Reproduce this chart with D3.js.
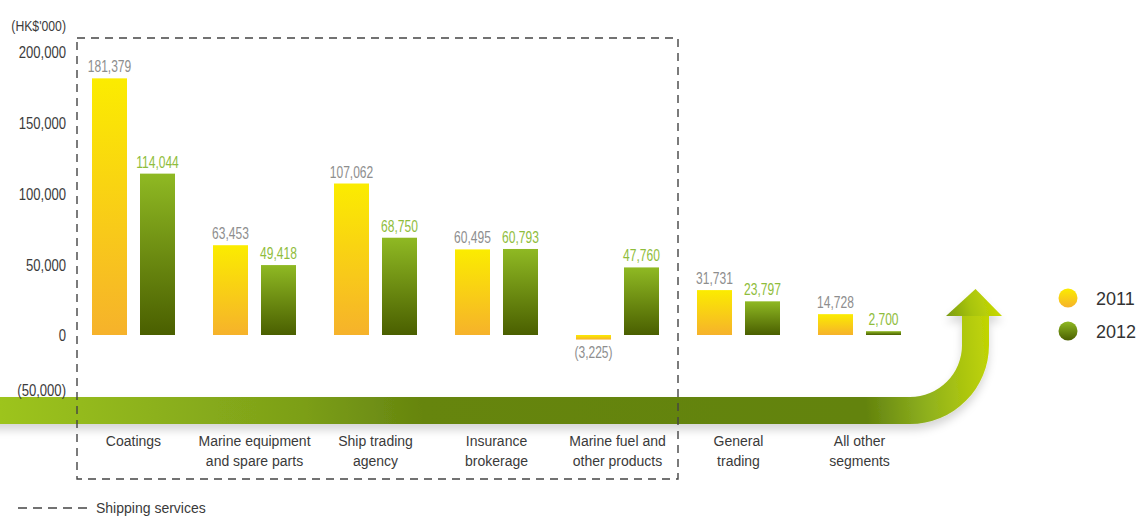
<!DOCTYPE html>
<html>
<head>
<meta charset="utf-8">
<script src="https://cdn.jsdelivr.net/npm/d3@7"></script>
<style>
  html, body { margin: 0; padding: 0; background: #ffffff; }
  svg { display: block; }
  .num { font-family: "Liberation Sans", Arial, sans-serif; }
  .txt { font-family: "Liberation Sans", Arial, sans-serif; }
</style>
</head>
<body>
<svg id="chart" width="1138" height="517"></svg>
<script>
// Segment results, HK$'000
const categories = [
  "Coatings",
  "Marine equipment\nand spare parts",
  "Ship trading\nagency",
  "Insurance\nbrokerage",
  "Marine fuel and\nother products",
  "General\ntrading",
  "All other\nsegments"
];
const years = ["2011", "2012"];
const values2011 = [181379, 63453, 107062, 60495, -3225, 31731, 14728];
const values2012 = [114044, 49418, 68750, 60793, 47760, 23797, 2700];
const yTickValues = [200000, 150000, 100000, 50000, 0, -50000];
const unitLabel = "(HK$'000)";
const groupLabel = "Shipping services";
// categories enclosed by the dashed "Shipping services" box
const shippingCategories = categories.slice(0, 5);

// numbers are set in a narrow face: squeeze the regular sans horizontally
const NARROW_AXIS = 0.77;
const NARROW_VAL = 0.73;
const NARROW_UNIT = 0.79;

const svg = d3.select("#chart");
const defs = svg.append("defs");

function vGrad(id, top, bottom) {
  const g = defs.append("linearGradient").attr("id", id)
    .attr("x1", 0).attr("y1", 0).attr("x2", 0).attr("y2", 1);
  g.append("stop").attr("offset", "0%").attr("stop-color", top);
  g.append("stop").attr("offset", "100%").attr("stop-color", bottom);
}
vGrad("g2011", "#fbec00", "#f6b22b");
vGrad("g2012", "#8fb923", "#4a5f00");

const seriesFill = { "2011": "url(#g2011)", "2012": "url(#g2012)" };
const labelColor = { "2011": "#8e8e8e", "2012": "#8fbd3c" };

// scales
const x = d3.scaleBand()
  .domain(categories)
  .range([73, 920])
  .paddingInner(38 / 121)
  .paddingOuter(19 / 121);
const xInner = d3.scaleBand()
  .domain(years)
  .range([0, x.bandwidth()])
  .paddingInner(2 - x.bandwidth() / 48);
const y = d3.scaleLinear().domain([0, 200000]).range([335, 52]);

const fmt = d3.format(",");
const fmtVal = v => v < 0 ? `(${fmt(-v)})` : fmt(v);

const rows = categories.map((c, i) => ({
  cat: c,
  vals: [{ year: "2011", v: values2011[i] }, { year: "2012", v: values2012[i] }]
}));

// growth arrow running under the bars
const ag = defs.append("linearGradient").attr("id", "arrowGrad")
  .attr("gradientUnits", "userSpaceOnUse")
  .attr("x1", 0).attr("y1", 415).attr("x2", 1000).attr("y2", 330);
[[0, "#9dc41f"], [0.3, "#7c9f18"], [0.42, "#66850f"], [0.86, "#63830e"],
 [0.92, "#8eb01e"], [1, "#cadb00"]].forEach(([o, c]) =>
  ag.append("stop").attr("offset", o).attr("stop-color", c));

const hg = defs.append("linearGradient").attr("id", "headGrad")
  .attr("gradientUnits", "userSpaceOnUse")
  .attr("x1", 946).attr("y1", 316).attr("x2", 1002).attr("y2", 300);
[[0, "#7a9b14"], [0.45, "#a8c40c"], [1, "#cddc00"]].forEach(([o, c]) =>
  hg.append("stop").attr("offset", o).attr("stop-color", c));

const shadow = defs.append("filter").attr("id", "arrowShadow")
  .attr("x", "-5%").attr("y", "-20%").attr("width", "110%").attr("height", "160%");
shadow.append("feDropShadow").attr("dx", 0).attr("dy", 6)
  .attr("stdDeviation", 4).attr("flood-color", "#000").attr("flood-opacity", 0.16);

const cx = 910, cy = 345, rIn = 52, rOut = 79, headBase = 316;
const bodyPath = d3.path();
bodyPath.moveTo(-10, cy + rIn);
bodyPath.lineTo(cx, cy + rIn);
bodyPath.arc(cx, cy, rIn, Math.PI / 2, 0, true);
bodyPath.lineTo(cx + rIn, headBase);
bodyPath.lineTo(cx + rOut, headBase);
bodyPath.lineTo(cx + rOut, cy);
bodyPath.arc(cx, cy, rOut, 0, Math.PI / 2, false);
bodyPath.lineTo(-10, cy + rOut);
bodyPath.closePath();

const headPath = d3.path();
headPath.moveTo(946, headBase);
headPath.lineTo((cx + rIn + cx + rOut) / 2, 289);
headPath.lineTo(1002, headBase);
headPath.closePath();

const arrowG = svg.append("g").attr("filter", "url(#arrowShadow)");
arrowG.append("path").attr("d", bodyPath.toString()).attr("fill", "url(#arrowGrad)");
arrowG.append("path").attr("d", headPath.toString()).attr("fill", "url(#headGrad)");

// y axis labels
const yAxis = d3.axisLeft(y).tickValues(yTickValues).tickFormat(fmtVal).tickSize(0).tickPadding(0);
const yg = svg.append("g").attr("transform", "translate(66,0)").call(yAxis);
yg.select(".domain").remove();
yg.selectAll("text")
  .attr("class", "num")
  .attr("font-size", 17)
  .attr("fill", "#3c3c3c")
  .attr("transform", `scale(${NARROW_AXIS},1)`)
  .attr("dy", d => d < 0 ? "-0.6em" : "0.34em");

svg.append("text").attr("class", "num")
  .attr("transform", `translate(66,31) scale(${NARROW_UNIT},1)`)
  .attr("text-anchor", "end")
  .attr("font-size", 15.5)
  .attr("fill", "#3c3c3c")
  .text(unitLabel);

// bars
const groups = svg.append("g").selectAll("g")
  .data(rows).join("g")
  .attr("transform", d => `translate(${x(d.cat)},0)`);

groups.selectAll("rect")
  .data(d => d.vals).join("rect")
  .attr("x", d => xInner(d.year))
  .attr("width", xInner.bandwidth())
  .attr("y", d => y(Math.max(0, d.v)))
  .attr("height", d => Math.abs(y(d.v) - y(0)))
  .attr("fill", d => seriesFill[d.year]);

groups.selectAll("text.val")
  .data(d => d.vals).join("text")
  .attr("class", "val num")
  .attr("transform", d => {
    const tx = xInner(d.year) + xInner.bandwidth() / 2;
    const ty = d.v >= 0 ? y(d.v) - 6 : y(d.v) + 18;
    return `translate(${tx},${ty}) scale(${NARROW_VAL},1)`;
  })
  .attr("text-anchor", "middle")
  .attr("font-size", 16.5)
  .attr("fill", d => labelColor[d.year])
  .text(d => fmtVal(d.v));

// category labels
const catG = svg.append("g").selectAll("text")
  .data(categories).join("text")
  .attr("class", "txt")
  .attr("text-anchor", "middle")
  .attr("font-size", 14)
  .attr("fill", "#3a3a3a")
  .attr("x", d => x(d) + x.bandwidth() / 2)
  .attr("y", 446);
catG.selectAll("tspan")
  .data(d => d.split("\n")).join("tspan")
  .attr("x", function () { return d3.select(this.parentNode).attr("x"); })
  .attr("dy", (d, i) => i === 0 ? 0 : 20)
  .text(d => d);

// dashed box around the shipping segments
const first = shippingCategories[0], last = shippingCategories[shippingCategories.length - 1];
const boxX0 = x(first) - 15, boxX1 = x(last) + x.bandwidth() + 19;
svg.append("rect")
  .attr("x", boxX0).attr("y", 38)
  .attr("width", boxX1 - boxX0).attr("height", 441)
  .attr("fill", "none")
  .attr("stroke", "#444")
  .attr("stroke-width", 1.4)
  .attr("stroke-dasharray", "8,6");

// legend
const legend = svg.append("g");
const lg = legend.selectAll("g").data(years).join("g")
  .attr("transform", (d, i) => `translate(1068,${298 + i * 33})`);
lg.append("circle").attr("r", 9.5).attr("fill", d => seriesFill[d]);
lg.append("text").attr("class", "txt")
  .attr("x", 28).attr("y", 7)
  .attr("font-size", 18).attr("fill", "#333")
  .text(d => d);

svg.append("line")
  .attr("x1", 18).attr("x2", 87).attr("y1", 508).attr("y2", 508)
  .attr("stroke", "#444").attr("stroke-width", 1.3)
  .attr("stroke-dasharray", "9,6");
svg.append("text").attr("class", "txt")
  .attr("x", 96).attr("y", 513)
  .attr("font-size", 14).attr("fill", "#3a3a3a")
  .text(groupLabel);
</script>
</body>
</html>
